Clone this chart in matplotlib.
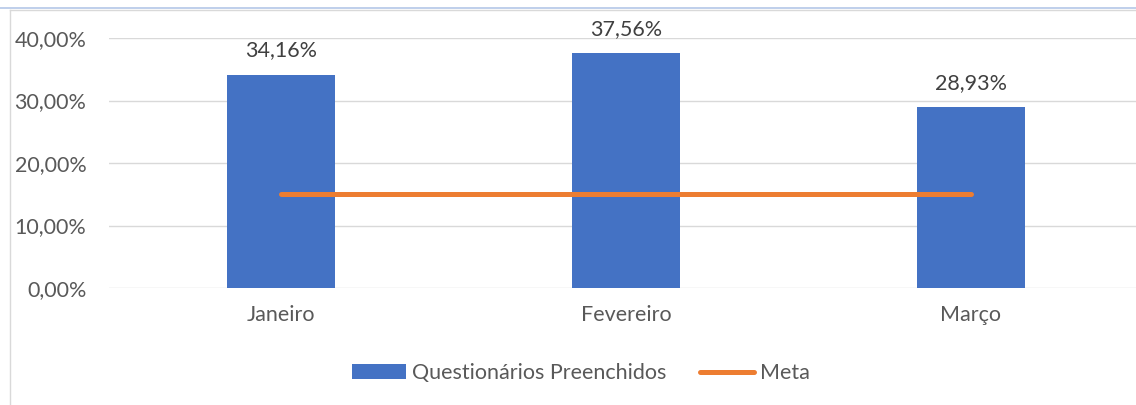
import matplotlib
matplotlib.use("Agg")
import matplotlib.pyplot as plt
from matplotlib.lines import Line2D
from matplotlib.patches import Patch

categories = ["Janeiro", "Fevereiro", "Março"]
questionarios = [0.3416, 0.3756, 0.2893]
meta = [0.15, 0.15, 0.15]
yticks = [0.0, 0.1, 0.2, 0.3, 0.4]
ytick_labels = ["0,00%", "10,00%", "20,00%", "30,00%", "40,00%"]
value_labels = ["34,16%", "37,56%", "28,93%"]

plt.rcParams['font.family'] = ['Lato', 'DejaVu Sans']
TXT = '#595959'
FS = 15.5
W, H = 1136, 405
fig = plt.figure(figsize=(W/100, H/100), dpi=100)

# frame lines
fig.add_artist(Line2D([0, 1], [1-8/H, 1-8/H], color='#B4C7E7', lw=1.2, transform=fig.transFigure))
fig.add_artist(Line2D([10/W, 1], [1-10/H, 1-10/H], color='#D9D9D9', lw=1.0, transform=fig.transFigure))
fig.add_artist(Line2D([10/W, 10/W], [0, 1-10/H], color='#D9D9D9', lw=1.0, transform=fig.transFigure))

ax = fig.add_axes([108.5/W, 117/H, 1035/W, 250/H])
x = list(range(len(categories)))
ax.bar(x, questionarios, width=0.315, color='#4472C4', zorder=2)
ax.plot(x, meta, color='#ED7D31', lw=3.6, solid_capstyle='round', zorder=3)
for xi, v, lab in zip(x, questionarios, value_labels):
    ax.annotate(lab, (xi, v), xytext=(0, 17.5), textcoords='offset points',
                ha='center', va='center', fontsize=FS, color='#404040')

ax.set_xlim(-0.5, 2.5)
ax.set_ylim(0, 0.4)
ax.set_yticks(yticks)
ax.set_yticklabels(ytick_labels)
ax.set_xticks(x)
ax.set_xticklabels(categories)
ax.tick_params(axis='y', length=0, pad=16, labelsize=FS, labelcolor=TXT)
ax.tick_params(axis='x', length=0, pad=12, labelsize=FS, labelcolor=TXT)
ax.grid(axis='y', color='#D9D9D9', lw=1.0, zorder=0)
ax.set_axisbelow(True)
for s in ax.spines.values():
    s.set_visible(False)

handles = [Patch(facecolor='#4472C4', edgecolor='none'),
           Line2D([0], [0], color='#ED7D31', lw=3.6, solid_capstyle='round')]
fig.legend(handles, ["Questionários Preenchidos", "Meta"], loc='center',
           bbox_to_anchor=(581/W, 1-373/H), ncol=2, frameon=False,
           fontsize=FS, labelcolor=TXT, handlelength=2.5, handleheight=0.65,
           handletextpad=0.25, columnspacing=1.6)

fig.savefig("out.png", dpi=100)
